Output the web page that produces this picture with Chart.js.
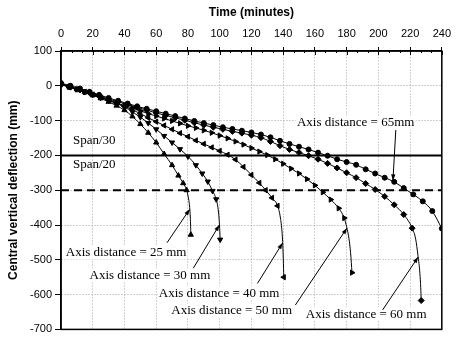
<!DOCTYPE html>
<html>
<head>
<meta charset="utf-8">
<script src="https://cdn.jsdelivr.net/npm/chart.js@4.4.1/dist/chart.umd.min.js"></script>
<style>
  html, body { margin: 0; padding: 0; background: #fff; }
  #chart { display: block; }
</style>
</head>
<body>
<canvas id="chart" width="457" height="339"></canvas>
<script>
// values (time in minutes, deflection in mm)
const time25 = [0, 5, 10, 15, 20, 25, 30, 35, 40, 45, 50, 55, 60, 65, 70, 74, 77, 79.2, 80.4, 81.1, 81.5, 81.7, 81.8];
const defl25 = [6, -2, -10, -18, -27, -36, -46, -57, -70, -88, -110, -135, -163, -196, -228, -258, -280, -300, -325, -350, -380, -405, -428];

const time30 = [0, 5, 10, 15, 20, 25, 30, 35, 40, 45, 50, 55, 60, 65, 70, 75, 80, 85, 89, 92.5, 95.5, 97.8, 98.9, 99.6, 100.0, 100.2, 100.3];
const defl30 = [4, -3, -10, -18, -26, -34, -42, -51, -61, -75, -90, -107, -125, -144, -163, -182, -203, -228, -252, -275, -302, -326, -350, -380, -410, -430, -442];

const time40 = [0, 5, 10, 15, 20, 25, 30, 35, 40, 45, 50, 55, 60, 65, 70, 75, 80, 85, 90, 95, 100, 105, 110, 115, 120, 125, 129, 133, 136.5, 138.3, 139.3, 139.8, 140.1, 140.4];
const defl40 = [5, -2, -10, -17, -25, -33, -41, -50, -59, -69, -80, -92, -103, -114, -125, -136, -146, -157, -167, -177, -187, -198, -212, -233, -256, -279, -300, -322, -345, -380, -420, -460, -500, -550];

const time50 = [0, 5, 10, 15, 20, 25, 30, 35, 40, 45, 50, 55, 60, 65, 70, 75, 80, 85, 90, 95, 100, 105, 110, 115, 120, 125, 130, 135, 140, 145, 150, 155, 160, 165, 170, 175, 178.5, 180, 181.5, 182.5, 183.4];
const defl50 = [4, -3, -10, -18, -25, -33, -41, -49, -57, -64, -72, -80, -87, -94, -101, -108, -115, -121, -128, -135, -143, -151, -160, -169, -179, -189, -199, -211, -224, -238, -252, -268, -286, -306, -327, -352, -380, -405, -440, -480, -537];

const time60 = [0, 6, 12, 18, 24, 30, 36, 42, 48, 54, 60, 66, 72, 78, 84, 90, 96, 102, 108, 114, 120, 126, 132, 138, 144, 150, 156, 162, 168, 174, 180, 186, 192, 198, 204, 210, 216, 221.3, 223.5, 225, 226.2, 226.7, 227];
const defl60 = [3, -4, -12, -20, -29, -38, -46, -54, -62, -70, -78, -85, -92, -99, -106, -113, -119, -125, -131, -136, -142, -149, -160, -172, -183, -192, -201, -211, -223, -236, -250, -264, -281, -298, -318, -342, -370, -409, -440, -489, -540, -580, -617];

const time65 = [0, 6, 12, 18, 24, 30, 36, 42, 48, 54, 60, 66, 72, 78, 84, 90, 96, 102, 108, 114, 120, 126, 132, 138, 144, 150, 156, 162, 168, 174, 180, 186, 192, 198, 204, 210, 216, 222, 228, 234, 240];
const defl65 = [8, 0, -8, -17, -26, -35, -43, -51, -59, -66, -73, -80, -87, -94, -101, -107, -113, -119, -124, -129, -134, -140, -148, -158, -167, -175, -183, -192, -201, -211, -219, -227, -240, -252, -264, -276, -294, -312, -332, -360, -410];

const seriesNames = ['Axis distance = 25 mm', 'Axis distance = 30 mm', 'Axis distance = 40 mm',
                     'Axis distance = 50 mm', 'Axis distance = 60 mm', 'Axis distance = 65mm'];
const seriesTimes = [time25, time30, time40, time50, time60, time65];
const seriesDefl = [defl25, defl30, defl40, defl50, defl60, defl65];

const spanLimits = [-200, -300];
const spanLabels = ['Span/30', 'Span/20'];

const timeTicks = [0, 20, 40, 60, 80, 100, 120, 140, 160, 180, 200, 220, 240];
const deflTicks = [100, 0, -100, -200, -300, -400, -500, -600, -700];

// marker look for each series; markers are left off the run-out tail from "bareFrom"
const markers = [
  { style: 'triangle', rotation: 0, radius: 3, bareFrom: 18 },
  { style: 'triangle', rotation: 180, radius: 3, bareFrom: 22 },
  { style: 'triangle', rotation: 270, radius: 3, bareFrom: 29 },
  { style: 'triangle', rotation: 90, radius: 3, bareFrom: 37 },
  { style: 'rectRot', rotation: 0, radius: 3, bareFrom: 38 },
  { style: 'circle', rotation: 0, radius: 2.5, bareFrom: 99 }
];

// label placement (data units): text anchor, arrow start, arrow tip
const callouts = [
  { text: seriesNames[0], at: [3, -479], from: [66.8, -451], to: [81.1, -355] },
  { text: seriesNames[1], at: [18, -545], from: [83.4, -524], to: [99.8, -400] },
  { text: seriesNames[2], at: [61.6, -596], from: [123.8, -568], to: [139.6, -452] },
  { text: seriesNames[3], at: [69.5, -646], from: [147.7, -630], to: [180.2, -409] },
  { text: seriesNames[4], at: [154.3, -656], from: [202.7, -644], to: [225.1, -492] },
  { text: seriesNames[5], at: [148.7, -106], from: [211, -127], to: [209.2, -272] }
];

const serif = '"Liberation Serif", "Times New Roman", serif';
const sans = '"Liberation Sans", Arial, sans-serif';

const datasets = seriesNames.map((name, s) => {
  const n = seriesTimes[s].length;
  const m = markers[s];
  return {
    label: name,
    data: seriesTimes[s].map((t, i) => ({ x: t, y: seriesDefl[s][i] })),
    showLine: true,
    borderColor: '#000',
    borderWidth: 1,
    cubicInterpolationMode: 'monotone',
    pointStyle: m.style,
    rotation: m.rotation,
    pointRadius: ctx => (ctx.dataIndex >= m.bareFrom && ctx.dataIndex < n - 1) ? 0 : m.radius,
    pointBackgroundColor: '#000',
    pointBorderColor: '#000',
    pointBorderWidth: 1
  };
});

spanLimits.forEach((v, k) => {
  datasets.push({
    label: 'limit ' + v,
    data: [{ x: timeTicks[0], y: v }, { x: timeTicks[timeTicks.length - 1], y: v }],
    showLine: true,
    borderColor: '#000',
    borderWidth: 2,
    borderDash: k === 0 ? [] : [8, 5],
    pointRadius: 0
  });
});

const overlay = {
  id: 'overlay',
  afterDraw(chart) {
    const { ctx, chartArea: a, scales: { x, y } } = chart;
    ctx.save();
    // plot frame
    ctx.strokeStyle = '#000';
    ctx.lineWidth = 1.5;
    ctx.strokeRect(a.left, a.top, a.right - a.left, a.bottom - a.top);

    // inner ticks on the time axis, major and minor
    ctx.lineWidth = 1;
    for (let i = 0; i < timeTicks.length; i++) {
      const px = Math.round(x.getPixelForValue(timeTicks[i])) + 0.5;
      ctx.beginPath(); ctx.moveTo(px, a.top); ctx.lineTo(px, a.top + 4); ctx.stroke();
      if (i < timeTicks.length - 1) {
        const step = (timeTicks[i + 1] - timeTicks[i]) / 3;
        for (let j = 1; j < 3; j++) {
          const mx = Math.round(x.getPixelForValue(timeTicks[i] + j * step)) + 0.5;
          ctx.beginPath(); ctx.moveTo(mx, a.top); ctx.lineTo(mx, a.top + 2); ctx.stroke();
        }
      }
    }

    ctx.fillStyle = '#000';
    ctx.font = '13px ' + serif;
    ctx.textBaseline = 'middle';
    ctx.textAlign = 'left';

    // span labels either side of the span/30 line
    const sx = x.getPixelForValue(7.5);
    ctx.fillText(spanLabels[0], sx, y.getPixelForValue(spanLimits[0]) - 15);
    ctx.fillText(spanLabels[1], sx, y.getPixelForValue(spanLimits[0]) + 9);

    callouts.forEach(c => {
      const tx = x.getPixelForValue(c.at[0]);
      const ty = y.getPixelForValue(c.at[1]);
      const w = ctx.measureText(c.text).width;
      ctx.fillStyle = '#fff';
      ctx.fillRect(tx - 1, ty - 7, w + 2, 14);
      ctx.fillStyle = '#000';
      ctx.fillText(c.text, tx, ty);

      const x1 = x.getPixelForValue(c.from[0]), y1 = y.getPixelForValue(c.from[1]);
      const x2 = x.getPixelForValue(c.to[0]), y2 = y.getPixelForValue(c.to[1]);
      ctx.beginPath(); ctx.moveTo(x1, y1); ctx.lineTo(x2, y2); ctx.stroke();
      const ang = Math.atan2(y2 - y1, x2 - x1);
      ctx.beginPath();
      ctx.moveTo(x2, y2);
      ctx.lineTo(x2 - 6 * Math.cos(ang) + 2.2 * Math.sin(ang), y2 - 6 * Math.sin(ang) - 2.2 * Math.cos(ang));
      ctx.lineTo(x2 - 6 * Math.cos(ang) - 2.2 * Math.sin(ang), y2 - 6 * Math.sin(ang) + 2.2 * Math.cos(ang));
      ctx.closePath();
      ctx.fill();
    });
    ctx.restore();
  }
};

new Chart(document.getElementById('chart'), {
  type: 'scatter',
  data: { datasets },
  options: {
    responsive: false,
    animation: false,
    devicePixelRatio: 1,
    layout: { padding: { top: 0, left: 0, right: 10, bottom: 3 } },
    plugins: { legend: { display: false }, tooltip: { enabled: false } },
    scales: {
      x: {
        type: 'linear',
        position: 'top',
        min: timeTicks[0],
        max: timeTicks[timeTicks.length - 1],
        afterBuildTicks: s => { s.ticks = timeTicks.map(v => ({ value: v })); },
        afterFit: s => { s.height = 51; },
        ticks: { color: '#000', font: { family: sans, size: 11 }, padding: 6, maxRotation: 0 },
        grid: { color: '#a0a0a0', lineWidth: 1, tickLength: 4, tickColor: '#000', tickWidth: 1 },
        border: { display: true, color: '#000', width: 1.5, dash: [1, 2] },
        title: { display: true, text: 'Time (minutes)', color: '#000', font: { family: sans, size: 12, weight: 'bold' }, padding: { top: 5, bottom: 4 } }
      },
      y: {
        type: 'linear',
        min: deflTicks[deflTicks.length - 1],
        max: deflTicks[0],
        afterBuildTicks: s => { s.ticks = deflTicks.map(v => ({ value: v })); },
        afterFit: s => { s.width = 61; },
        ticks: { color: '#000', font: { family: sans, size: 11 }, padding: 3 },
        grid: { color: '#a0a0a0', lineWidth: 1, tickLength: 6, tickColor: '#000', tickWidth: 1 },
        border: { display: true, color: '#000', width: 1.5, dash: [1, 2] },
        title: { display: true, text: 'Central vertical deflection (mm)', color: '#000', font: { family: sans, size: 12, weight: 'bold' }, padding: { top: 6, bottom: 0 } }
      }
    }
  },
  plugins: [overlay]
});
</script>
</body>
</html>
